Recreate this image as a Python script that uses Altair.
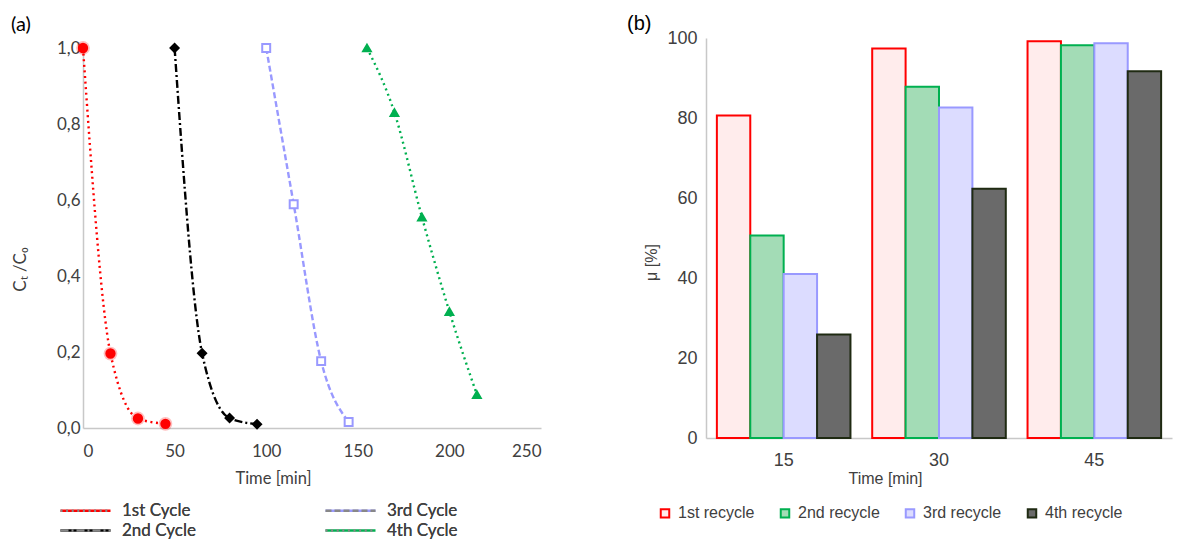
import altair as alt
import pandas as pd

# ---------------- Panel (a) data ----------------
cycle_names = ["1st Cycle", "2nd Cycle", "3rd Cycle", "4th Cycle"]
t_1st = [0, 15, 30, 45]
c_1st = [1.0, 0.196, 0.025, 0.011]
t_2nd = [50, 65, 80, 95]
c_2nd = [1.0, 0.197, 0.026, 0.01]
t_3rd = [100, 115, 130, 145]
c_3rd = [1.0, 0.589, 0.176, 0.016]
t_4th = [155, 170, 185, 200, 215]
c_4th = [1.0, 0.83, 0.555, 0.306, 0.088]
x_ticks_a = [0, 50, 100, 150, 200, 250]
y_ticks_a = [0.0, 0.2, 0.4, 0.6, 0.8, 1.0]

# ---------------- Panel (b) data ----------------
recycle_names = ["1st recycle", "2nd recycle", "3rd recycle", "4th recycle"]
times_b = ["15", "30", "45"]
mu_1st = [80.6, 97.4, 99.2]
mu_2nd = [50.6, 87.8, 98.2]
mu_3rd = [41.0, 82.6, 98.7]
mu_4th = [25.9, 62.3, 91.7]
y_ticks_b = [0, 20, 40, 60, 80, 100]

# ---------------- styles ----------------
line_colors = ["#ff0000", "#000000", "#9999ff", "#00b050"]
line_dashes = [[2, 3.6], [8, 3, 2, 3], [6, 3], [2, 3.6]]
point_shapes = ["circle", "diamond", "square", "triangle-up"]
point_fills = ["#ff0000", "#000000", "#ffffff", "#00b050"]
point_sizes = [70, 60, 80, 95]

bar_strokes = ["#ff0000", "#00b050", "#9999ff", "#1f2a12"]
bar_fills = ["#ffecec", "#a3dcb6", "#dcdcff", "#6a6a6a"]

rows_a = []
for name, ts, cs in zip(cycle_names, [t_1st, t_2nd, t_3rd, t_4th], [c_1st, c_2nd, c_3rd, c_4th]):
    for t, c in zip(ts, cs):
        rows_a.append({"cycle": name, "time": t, "c": c})
df_a = pd.DataFrame(rows_a)

rows_b = []
for name, vals in zip(recycle_names, [mu_1st, mu_2nd, mu_3rd, mu_4th]):
    for t, v in zip(times_b, vals):
        rows_b.append({"recycle": name, "time": t, "mu": v})
df_b = pd.DataFrame(rows_b)

FA = "Lato"
FB = "Liberation Sans"
TXT = "#404040"
AX = "#c8c8c8"

W_A, H_A = 458, 390
x_a = alt.X(
    "time:Q",
    scale=alt.Scale(domain=[0, 250], nice=False, zero=False),
    axis=alt.Axis(
        values=x_ticks_a, grid=False, ticks=False, domainColor=AX, domainWidth=1.5,
        labelFont=FA, labelFontSize=17, labelColor=TXT, labelPadding=15,
        title="Time [min]", titleFont=FA, titleFontSize=16.5, titleFontWeight="normal",
        titleColor=TXT, titleX=190, titleY=50, titleBaseline="middle",
    ),
)
y_a = alt.Y(
    "c:Q",
    scale=alt.Scale(domain=[0, 1], range=[H_A, 10], nice=False),
    axis=alt.Axis(
        values=y_ticks_a, grid=False, ticks=False, domainColor=AX, domainWidth=1.5,
        labelExpr="replace(format(datum.value, '.1f'), '.', ',')",
        labelFont=FA, labelFontSize=17, labelColor=TXT, labelPadding=3,
        title="Cₜ /C₀", titleFont=FA, titleFontSize=17, titleFontWeight="normal",
        titleColor=TXT, titleX=-54, titleY=231, titleAngle=270,
    ),
)

legend_a = alt.Legend(
    title=None, orient="none", legendX=-26, legendY=464, columns=2,
    columnPadding=124, rowPadding=2, symbolType="M-5,0H5", symbolSize=100,
    symbolOffset=20, symbolStrokeWidth=2.4, labelOffset=28,
    labelFont=FA, labelFontSize=17, labelColor=TXT,
)

# cycle names sort alphabetically in the wanted order, so the scales share one domain
lines = alt.Chart(df_a).mark_line(interpolate="monotone", strokeWidth=2.4).encode(
    x=x_a,
    y=y_a,
    color=alt.Color("cycle:N", scale=alt.Scale(range=line_colors), legend=legend_a),
    strokeDash=alt.StrokeDash("cycle:N", scale=alt.Scale(range=line_dashes), legend=legend_a),
    order="time:Q",
)

halo = alt.Chart(df_a).transform_filter(alt.datum.cycle == cycle_names[0]).mark_point(
    filled=True, size=190, opacity=0.25, color="#ff0000"
).encode(x="time:Q", y="c:Q")

points = alt.Chart(df_a).mark_point(strokeWidth=2, opacity=1).encode(
    x="time:Q",
    y="c:Q",
    shape=alt.Shape("cycle:N", scale=alt.Scale(range=point_shapes), legend=None),
    fill=alt.Fill("cycle:N", scale=alt.Scale(range=point_fills), legend=None),
    stroke=alt.Stroke("cycle:N", scale=alt.Scale(range=line_colors), legend=None),
    size=alt.Size("cycle:N", scale=alt.Scale(range=point_sizes), legend=None),
)

panel_a = alt.layer(lines, halo, points).properties(
    width=W_A, height=H_A,
    title=alt.TitleParams("(a)", anchor="start", frame="group", dx=-72, dy=1, offset=4,
                          font=FA, fontSize=20, fontWeight="normal", color="#000000"),
)

# ---------------- Panel (b) ----------------
W_B, H_B = 466, 400
legend_b = alt.Legend(
    title=None, orient="none", legendX=-49, legendY=467, direction="horizontal",
    columns=4, columnPadding=21, symbolType="square", symbolSize=72,
    symbolStrokeWidth=2, labelOffset=5,
    labelFont=FB, labelFontSize=16, labelColor=TXT,
)

bars = alt.Chart(df_b).mark_bar(strokeWidth=2).encode(
    x=alt.X(
        "time:N", sort=times_b,
        scale=alt.Scale(paddingInner=0.14, paddingOuter=0.07),
        axis=alt.Axis(
            labelAngle=0, grid=False, ticks=False, domainColor=AX, domainWidth=1.5,
            labelFont=FB, labelFontSize=18, labelColor=TXT, labelPadding=13,
            title="Time [min]", titleFont=FB, titleFontSize=16, titleFontWeight="normal",
            titleColor=TXT, titleX=179, titleY=40, titleBaseline="middle",
        ),
    ),
    xOffset=alt.XOffset("recycle:N", sort=recycle_names,
                        scale=alt.Scale(paddingInner=0, paddingOuter=0)),
    y=alt.Y(
        "mu:Q",
        scale=alt.Scale(domain=[0, 100], nice=False),
        axis=alt.Axis(
            values=y_ticks_b, grid=False, ticks=False, domainColor=AX, domainWidth=1.5,
            labelFont=FB, labelFontSize=18, labelColor=TXT, labelPadding=9,
            title="μ [%]", titleFont=FB, titleFontSize=16, titleFontWeight="normal",
            titleColor=TXT, titleX=-47, titleY=224, titleAngle=270,
        ),
    ),
    fill=alt.Fill("recycle:N", scale=alt.Scale(domain=recycle_names, range=bar_fills), legend=legend_b),
    stroke=alt.Stroke("recycle:N", scale=alt.Scale(domain=recycle_names, range=bar_strokes), legend=legend_b),
).properties(
    width=W_B, height=H_B,
    title=alt.TitleParams("(b)", anchor="start", frame="group", dx=-79, dy=9, offset=4,
                          font=FB, fontSize=20, fontWeight="normal", color="#000000"),
)

chart = alt.hconcat(panel_a, bars, spacing=86).resolve_scale(
    color="independent", fill="independent", stroke="independent", x="independent", y="independent"
).properties(
    padding={"left": 3, "top": 6, "right": 2, "bottom": 2}
).configure_view(stroke=None)

chart.save("out.html", embed_options={"renderer": "svg", "actions": False})
